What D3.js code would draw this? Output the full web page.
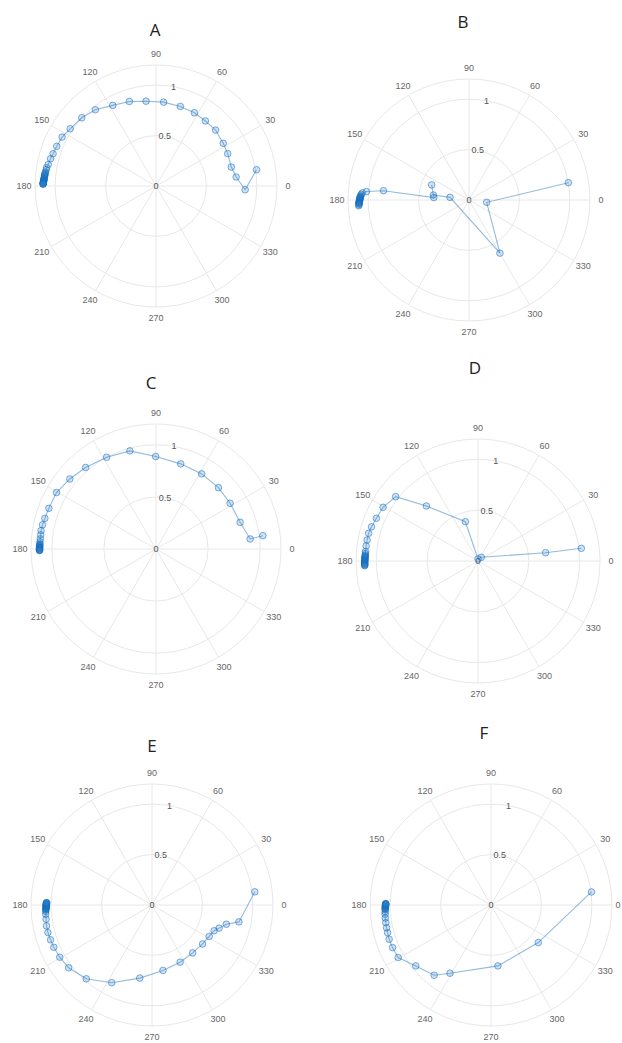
<!DOCTYPE html>
<html>
<head>
<meta charset="utf-8">
<script src="https://cdn.jsdelivr.net/npm/d3@7"></script>
<style>
  html, body { margin: 0; padding: 0; background: #fff; }
  svg { display: block; }
</style>
</head>
<body>
<svg id="chart" width="622" height="1043"></svg>
<script>
// ---- data: angle (degrees) and radius for each trajectory ----
const panelTitles = ["A", "B", "C", "D", "E", "F"];

const thetaA = [9.2, 357.6, 6.4, 14.1, 24.3, 32.4, 43.2, 52.8, 62.3, 73.0, 84.8, 96.7, 107.5, 118.2, 128.5, 137.4, 146.3, 152.5, 158.2, 162.6, 165.5, 168.7, 170.5, 171.6, 172.8, 173.5, 174.0, 174.5, 174.8, 175.2, 175.7, 176.0, 176.3, 176.7, 177.0, 177.3, 177.5, 177.8, 178.0, 178.2, 178.4, 178.6, 178.8, 179.0, 179.1];
const rA     = [1.01, 0.885, 0.80, 0.77, 0.78, 0.79, 0.81, 0.81, 0.82, 0.825, 0.835, 0.847, 0.879, 0.907, 0.966, 1.00, 1.023, 1.05, 1.06, 1.07, 1.08, 1.09, 1.10, 1.10, 1.105, 1.106, 1.108, 1.109, 1.11, 1.11, 1.11, 1.111, 1.112, 1.113, 1.115, 1.115, 1.115, 1.116, 1.118, 1.118, 1.118, 1.119, 1.12, 1.12, 1.12];

const thetaB = [9.9, 352.5, 300.2, 172, 172, 158, 176, 173.8, 175.3, 176.2, 177.0, 177.8, 178.2, 178.5, 178.9, 179.2, 179.5, 179.8, 180.1, 180.4, 180.7, 181.0, 181.3, 181.5, 181.8, 182.0, 182.5, 183.0];
const rB     = [1.00, 0.177, 0.61, 0.19, 0.357, 0.40, 0.35, 0.853, 1.02, 1.06, 1.07, 1.075, 1.078, 1.08, 1.08, 1.08, 1.082, 1.085, 1.085, 1.085, 1.088, 1.09, 1.09, 1.09, 1.09, 1.09, 1.095, 1.095];

const thetaC = [7.1, 6.1, 17.6, 31.7, 44.5, 58.7, 73.8, 90.2, 104.9, 118.3, 130.8, 140.9, 150.4, 159.2, 164.6, 168.0, 170.9, 173.0, 175.0, 176.5, 177.5, 178.0, 178.3, 178.7, 179.0, 179.3, 179.5, 179.7, 180.0, 180.2, 180.4, 180.6, 180.8];
const rC     = [1.034, 0.909, 0.847, 0.836, 0.84, 0.844, 0.851, 0.888, 0.975, 1.00, 1.034, 1.066, 1.098, 1.10, 1.107, 1.114, 1.117, 1.115, 1.115, 1.116, 1.116, 1.116, 1.117, 1.117, 1.117, 1.118, 1.118, 1.118, 1.118, 1.118, 1.118, 1.118, 1.118];

const thetaD = [7.0, 7.0, 47.7, 90, 107.8, 133.2, 142.0, 150.5, 157.2, 162.2, 165.8, 169.3, 172.3, 175.2, 176.2, 177.0, 177.5, 177.8, 178.2, 178.6, 179.0, 179.3, 179.7, 180.0, 180.3, 180.6, 181.0, 181.2, 181.5, 181.8, 182.1, 182.4];
const rD     = [1.024, 0.67, 0.049, 0.02, 0.406, 0.742, 1.028, 1.073, 1.084, 1.10, 1.11, 1.11, 1.11, 1.11, 1.11, 1.11, 1.111, 1.112, 1.112, 1.112, 1.112, 1.113, 1.113, 1.114, 1.114, 1.114, 1.115, 1.115, 1.115, 1.115, 1.115, 1.115];

const thetaE = [7.3, 349.0, 345.5, 341.0, 337.5, 331.2, 322.4, 310.3, 296.2, 279.5, 260.5, 242.6, 228.3, 217.0, 209.5, 203.3, 198.9, 194.8, 191.2, 187.6, 185.0, 183.5, 182.7, 182.3, 182.0, 181.6, 181.3, 181.0, 180.7, 180.4, 180.2, 180.0, 179.8, 179.6, 179.4, 179.2, 179.0, 178.8, 178.7];
const rE     = [1.028, 0.878, 0.762, 0.704, 0.667, 0.647, 0.633, 0.623, 0.632, 0.658, 0.735, 0.868, 0.98, 1.035, 1.051, 1.06, 1.064, 1.068, 1.066, 1.06, 1.058, 1.055, 1.055, 1.054, 1.052, 1.051, 1.05, 1.05, 1.05, 1.05, 1.05, 1.049, 1.048, 1.048, 1.048, 1.047, 1.046, 1.046, 1.046];

const thetaF = [7.4, 321.5, 276.5, 239.0, 231.0, 219.0, 209.5, 203.4, 198.6, 195.0, 192.3, 189.5, 187.0, 185.0, 183.6, 182.5, 182.0, 181.7, 181.3, 181.0, 180.7, 180.4, 180.1, 179.9, 179.7, 179.5, 179.3, 179.2];
const rF     = [1.005, 0.599, 0.608, 0.789, 0.896, 0.96, 1.058, 1.064, 1.066, 1.062, 1.06, 1.058, 1.056, 1.054, 1.052, 1.05, 1.05, 1.05, 1.048, 1.048, 1.047, 1.046, 1.046, 1.046, 1.045, 1.044, 1.044, 1.044];

const thetaSeries = [thetaA, thetaB, thetaC, thetaD, thetaE, thetaF];
const rSeries     = [rA, rB, rC, rD, rE, rF];

// ---- axis ticks ----
const thetaTicks = [0, 30, 60, 90, 120, 150, 180, 210, 240, 270, 300, 330];
const rTicks = [0, 0.5, 1];
const rTickLabels = ["0", "0.5", "1"];
const rMax = 1.2;

// ---- layout of the six polar axes ----
const layout = [
  { cx: 156, cy: 186, R: 121, tx: 155, ty: 29 },
  { cx: 469, cy: 200, R: 121, tx: 463, ty: 21 },
  { cx: 156, cy: 549, R: 125, tx: 151, ty: 382 },
  { cx: 478, cy: 561, R: 122, tx: 475, ty: 367 },
  { cx: 152, cy: 905, R: 121, tx: 152, ty: 745 },
  { cx: 491, cy: 905, R: 121, tx: 484, ty: 732 }
];

const W = 622;
const svg = d3.select("#chart");
const rad = deg => (90 - deg) * Math.PI / 180; // d3 radial angle: clockwise from 12 o'clock

const lineColor = "rgba(40,120,190,0.5)";
const markerStroke = "rgba(20,110,190,0.6)";
const markerFill = "rgba(40,125,200,0.22)";
const gridColor = "#e8e8e8";

layout.forEach((L, i) => {
  const rScale = d3.scaleLinear().domain([0, rMax]).range([0, L.R]);
  const g = svg.append("g").attr("transform", `translate(${L.cx},${L.cy})`);

  // grid circles: tick radii plus outer edge
  const circles = rTicks.filter(v => v > 0).concat([rMax]);
  g.selectAll("circle.grid").data(circles).join("circle")
    .attr("class", "grid")
    .attr("r", d => rScale(d))
    .attr("fill", "none")
    .attr("stroke", gridColor)
    .attr("stroke-width", 1);

  // spokes
  g.selectAll("line.spoke").data(thetaTicks).join("line")
    .attr("class", "spoke")
    .attr("x1", 0).attr("y1", 0)
    .attr("x2", d => d3.pointRadial(rad(d), rScale(rMax))[0])
    .attr("y2", d => d3.pointRadial(rad(d), rScale(rMax))[1])
    .attr("stroke", gridColor)
    .attr("stroke-width", 1);

  // angle labels (kept inside the page's right edge)
  g.selectAll("text.tlabel").data(thetaTicks).join("text")
    .attr("class", "tlabel")
    .attr("x", d => Math.min(d3.pointRadial(rad(d), rScale(rMax) + 11)[0], W - 4 - L.cx))
    .attr("y", d => d3.pointRadial(rad(d), rScale(rMax) + 11)[1])
    .attr("text-anchor", "middle")
    .attr("dominant-baseline", "central")
    .attr("font-family", "Liberation Sans, Arial, sans-serif")
    .attr("font-size", 9)
    .attr("fill", "#666")
    .text(d => d);

  // radial tick labels along 80 degrees
  g.selectAll("text.rlabel").data(rTicks).join("text")
    .attr("class", "rlabel")
    .attr("x", d => d3.pointRadial(rad(80), rScale(d))[0])
    .attr("y", d => d3.pointRadial(rad(80), rScale(d))[1])
    .attr("text-anchor", "middle")
    .attr("dominant-baseline", "central")
    .attr("font-family", "Liberation Sans, Arial, sans-serif")
    .attr("font-size", 9)
    .attr("fill", "#555")
    .text((d, k) => rTickLabels[k]);

  // trajectory
  const pts = thetaSeries[i].map((t, k) => ({ t, r: rSeries[i][k] }));
  const line = d3.lineRadial()
    .angle(d => rad(d.t))
    .radius(d => rScale(d.r));
  g.append("path")
    .attr("d", line(pts))
    .attr("fill", "none")
    .attr("stroke", lineColor)
    .attr("stroke-width", 1.1);

  g.selectAll("circle.pt").data(pts).join("circle")
    .attr("class", "pt")
    .attr("cx", d => d3.pointRadial(rad(d.t), rScale(d.r))[0])
    .attr("cy", d => d3.pointRadial(rad(d.t), rScale(d.r))[1])
    .attr("r", 3.3)
    .attr("fill", markerFill)
    .attr("stroke", markerStroke)
    .attr("stroke-width", 0.9);

  // panel title
  svg.append("text")
    .attr("x", L.tx).attr("y", L.ty)
    .attr("text-anchor", "middle")
    .attr("dominant-baseline", "central")
    .attr("font-family", "Open Sans, Liberation Sans, sans-serif")
    .attr("font-size", 17)
    .attr("fill", "#222")
    .text(panelTitles[i]);
});
</script>
</body>
</html>
